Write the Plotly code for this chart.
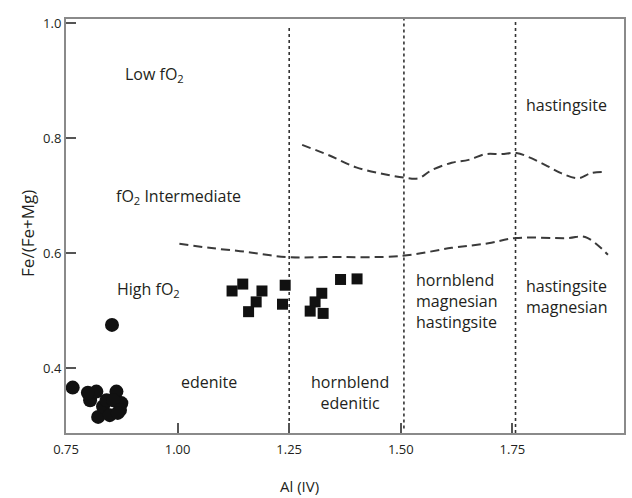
import plotly.graph_objects as go

# ---- data ----
circle_x = [0.853, 0.765, 0.804, 0.818, 0.822, 0.833, 0.848, 0.863, 0.874, 0.841, 0.856, 0.871, 0.799, 0.866]
circle_y = [0.475, 0.366, 0.344, 0.359, 0.315, 0.333, 0.318, 0.359, 0.339, 0.344, 0.344, 0.327, 0.357, 0.322]

square_x = [1.122, 1.146, 1.189, 1.176, 1.159, 1.241, 1.235, 1.323, 1.308, 1.297, 1.326, 1.365, 1.402]
square_y = [0.534, 0.546, 0.534, 0.515, 0.498, 0.544, 0.511, 0.530, 0.515, 0.499, 0.495, 0.554, 0.555]

upper_x = [1.279, 1.339, 1.400, 1.458, 1.509, 1.540, 1.569, 1.614, 1.652, 1.690, 1.725, 1.759,
           1.786, 1.824, 1.859, 1.897, 1.926, 1.958]
upper_y = [0.788, 0.770, 0.749, 0.738, 0.731, 0.730, 0.744, 0.757, 0.762, 0.772, 0.772, 0.774,
           0.767, 0.753, 0.739, 0.730, 0.739, 0.741]

lower_x = [1.004, 1.071, 1.154, 1.243, 1.333, 1.502, 1.614, 1.696, 1.757, 1.875, 1.913, 1.964]
lower_y = [0.616, 0.609, 0.602, 0.593, 0.593, 0.595, 0.609, 0.617, 0.626, 0.626, 0.628, 0.597]

boundary_x = [1.25, 1.507, 1.757]
boundary_top = [0.995, 1.007, 1.007]
boundary_bottom = [0.287, 0.295, 0.287]

x_ticks = [0.75, 1.00, 1.25, 1.50, 1.75, 2.00]
x_ticktext = ["0.75", "1.00", "1.25", "1.50", "1.75", "2.00"]
y_ticks = [0.4, 0.6, 0.8, 1.0]
y_ticktext = ["0.4", "0.6", "0.8", "1.0"]

labels = [
    ("Low fO<sub>2</sub>", 0.949, 0.910, "center"),
    ("fO<sub>2</sub> Intermediate", 1.002, 0.699, "center"),
    ("High fO<sub>2</sub>", 0.935, 0.536, "center"),
    ("edenite", 1.071, 0.376, "center"),
    ("hornblend<br>edenitic", 1.386, 0.357, "center"),
    ("hornblend<br>magnesian<br>hastingsite", 1.530, 0.517, "left"),
    ("hastingsite<br>magnesian", 1.776, 0.525, "left"),
    ("hastingsite", 1.776, 0.857, "left"),
]

FONT = "'Open Sans', Lato, sans-serif"
TXT = "#231f20"

fig = go.Figure()

for bx, bt, bb in zip(boundary_x, boundary_top, boundary_bottom):
    fig.add_trace(go.Scatter(x=[bx, bx], y=[bb, bt], mode="lines",
                             line=dict(color="#333333", width=1.6, dash="dot"),
                             hoverinfo="skip", showlegend=False))

for cx, cy in ((upper_x, upper_y), (lower_x, lower_y)):
    fig.add_trace(go.Scatter(x=cx, y=cy, mode="lines",
                             line=dict(color="#3a3a3a", width=2, dash="9px,5px", shape="spline"),
                             showlegend=False))

fig.add_trace(go.Scatter(x=circle_x, y=circle_y, mode="markers",
                         marker=dict(symbol="circle", size=14, color="#111111"),
                         showlegend=False))
fig.add_trace(go.Scatter(x=square_x, y=square_y, mode="markers",
                         marker=dict(symbol="square", size=11, color="#111111"),
                         showlegend=False))

for text, x, y, al in labels:
    fig.add_annotation(x=x, y=y, text=text, showarrow=False, align=al,
                       xanchor="left" if al == "left" else "center", yanchor="middle",
                       font=dict(family=FONT, size=16, color=TXT))

fig.add_annotation(x=1.272, y=-0.128, xref="x", yref="paper", text="Al (IV)",
                   xanchor="center", yanchor="middle",
                   showarrow=False, font=dict(family=FONT, size=15, color=TXT))
fig.add_annotation(x=-0.068, y=0.481, xref="paper", yref="paper", text="Fe/(Fe+Mg)",
                   xanchor="center", yanchor="middle",
                   textangle=-90, showarrow=False, font=dict(family=FONT, size=17, color=TXT))

fig.update_layout(
    width=632, height=498,
    margin=dict(l=66, r=6, t=19, b=65),
    paper_bgcolor="white", plot_bgcolor="white",
    xaxis=dict(range=[0.75, 2.0], tickvals=x_ticks, ticktext=x_ticktext,
               ticks="inside", ticklen=10, tickcolor="#555555", tickwidth=1.5,
               showgrid=False, zeroline=False, showline=True, linecolor="#8a8a8a",
               linewidth=2, mirror=True, ticklabelstandoff=3,
               tickfont=dict(family=FONT, size=13, color=TXT)),
    yaxis=dict(range=[0.287, 1.007], tickvals=y_ticks, ticktext=y_ticktext,
               ticks="inside", ticklen=10, tickcolor="#555555", tickwidth=1.5,
               showgrid=False, zeroline=False, showline=True, linecolor="#8a8a8a",
               linewidth=2, mirror=True,
               tickfont=dict(family=FONT, size=13, color=TXT)),
)

fig.write_html("out.html")
